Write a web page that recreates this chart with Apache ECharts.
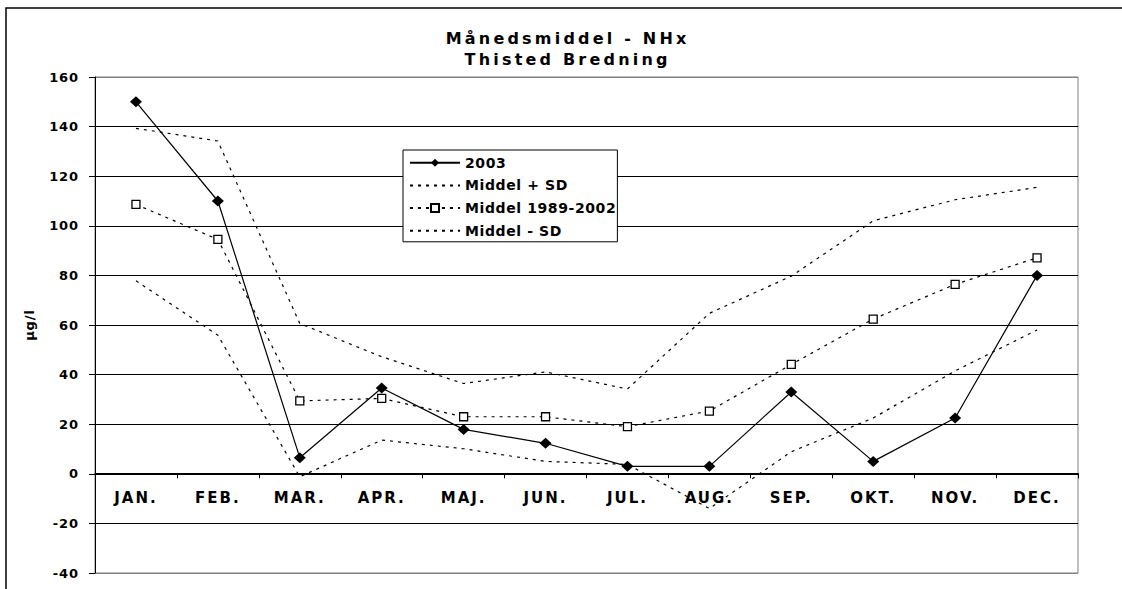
<!DOCTYPE html>
<html>
<head>
<meta charset="utf-8">
<title>Månedsmiddel - NHx</title>
<script src="https://cdn.jsdelivr.net/npm/echarts@6/dist/echarts.min.js"></script>
<style>
  html, body { margin: 0; padding: 0; background: #fff; }
  #chart { width: 1122px; height: 589px; }
  /* the original text is spaced wide, so add letter spacing by font size */
  #chart text { letter-spacing: 1px; }
  #chart text[style*="13px"] { letter-spacing: 0.9px; }
  #chart text[style*="14px"] { letter-spacing: 0.6px; }
  #chart text[style*="15px"] { letter-spacing: 2px; }
  #chart text[style*="16px"] { letter-spacing: 3.2px; }
</style>
</head>
<body>
<div id="chart"></div>
<script>
// monthly means of NHx, Thisted Bredning
var months = ['JAN.', 'FEB.', 'MAR.', 'APR.', 'MAJ.', 'JUN.', 'JUL.', 'AUG.', 'SEP.', 'OKT.', 'NOV.', 'DEC.'];
var year2003 = [150, 110, 6.5, 34.6, 17.9, 12.3, 3, 3, 33, 5, 22.5, 80];
var middelPlusSd = [139.3, 134.2, 60.6, 47.2, 36.4, 41.1, 34.2, 64.7, 79.7, 102, 110.5, 115.5];
var middel = [108.6, 94.5, 29.4, 30.4, 23, 23, 19, 25.3, 44.1, 62.4, 76.4, 87.1];
var middelMinusSd = [77.8, 55.9, -1.2, 13.6, 10.1, 5, 3.8, -14, 8.9, 22.5, 41.5, 58];

var FONT = '"DejaVu Sans", "Liberation Sans", sans-serif';
var dots = [3, 5];

var chart = echarts.init(document.getElementById('chart'), null, { renderer: 'svg' });

chart.setOption({
    animation: false,
    backgroundColor: '#fff',
    graphic: [
        {
            type: 'rect',
            shape: { x: 6, y: 8, width: 1300, height: 800 },
            style: { fill: 'none', stroke: '#000', lineWidth: 1.5 },
            silent: true
        },
        {
            type: 'text',
            x: 567.6,
            y: 27.8,
            style: {
                text: 'Månedsmiddel - NHx\nThisted Bredning',
                fontFamily: FONT,
                fontWeight: 'bold',
                fontSize: 16,
                lineHeight: 21,
                fill: '#000',
                textAlign: 'center',
                textVerticalAlign: 'top'
            }
        }
    ],
    grid: {
        left: 95,
        right: 44,
        top: 77,
        bottom: 16,
        show: true,
        borderColor: '#808080',
        borderWidth: 1
    },
    legend: {
        orient: 'vertical',
        left: 403,
        top: 150,
        itemWidth: 50,
        itemHeight: 10,
        itemGap: 8.7,
        padding: [5.7, 10.7, 4, 6],
        backgroundColor: '#fff',
        borderColor: '#000',
        borderWidth: 1,
        textStyle: { fontFamily: FONT, fontWeight: 'bold', fontSize: 14, color: '#000' },
        data: [
            { name: '2003' },
            { name: 'Middel + SD', itemStyle: { opacity: 0 } },
            { name: 'Middel 1989-2002' },
            { name: 'Middel - SD', itemStyle: { opacity: 0 } }
        ]
    },
    xAxis: {
        type: 'category',
        data: months,
        boundaryGap: true,
        offset: -99.6,
        axisLine: { onZero: false, lineStyle: { color: '#000', width: 1 } },
        axisTick: { show: true, inside: false, length: 5, lineStyle: { color: '#000' } },
        axisLabel: { margin: 17, fontFamily: FONT, fontWeight: 'bold', fontSize: 15, color: '#000' },
        splitLine: { show: false }
    },
    yAxis: {
        type: 'value',
        min: -40,
        max: 160,
        interval: 20,
        name: 'µg/l',
        nameLocation: 'middle',
        nameGap: 59,
        nameTextStyle: { fontFamily: FONT, fontWeight: 'bold', fontSize: 13, color: '#000' },
        axisLine: { show: true, lineStyle: { color: '#000', width: 1 } },
        axisTick: { show: true, inside: false, length: 6, lineStyle: { color: '#000' } },
        axisLabel: { margin: 16, fontFamily: FONT, fontWeight: 'bold', fontSize: 13, color: '#000' },
        splitLine: {
            show: true,
            lineStyle: {
                width: 1,
                color: ['#808080', '#000', '#000', '#000', '#000', '#000', '#000', '#000', '#000', '#000', '#808080']
            }
        }
    },
    series: [
        {
            name: 'Middel + SD',
            type: 'line',
            data: middelPlusSd,
            symbol: 'none',
            lineStyle: { color: '#000', width: 1.2, type: dots },
            itemStyle: { color: '#000' },
            z: 2
        },
        {
            name: 'Middel 1989-2002',
            type: 'line',
            data: middel,
            symbol: 'rect',
            symbolSize: 8,
            lineStyle: { color: '#000', width: 1.2, type: dots },
            itemStyle: { color: '#fff', borderColor: '#000', borderWidth: 1.3 },
            z: 3
        },
        {
            name: 'Middel - SD',
            type: 'line',
            data: middelMinusSd,
            symbol: 'none',
            lineStyle: { color: '#000', width: 1.2, type: dots },
            itemStyle: { color: '#000' },
            z: 2
        },
        {
            name: '2003',
            type: 'line',
            data: year2003,
            symbol: 'diamond',
            symbolSize: [12, 11],
            lineStyle: { color: '#000', width: 1.2, type: 'solid' },
            itemStyle: { color: '#000' },
            z: 4
        }
    ]
});
</script>
</body>
</html>
